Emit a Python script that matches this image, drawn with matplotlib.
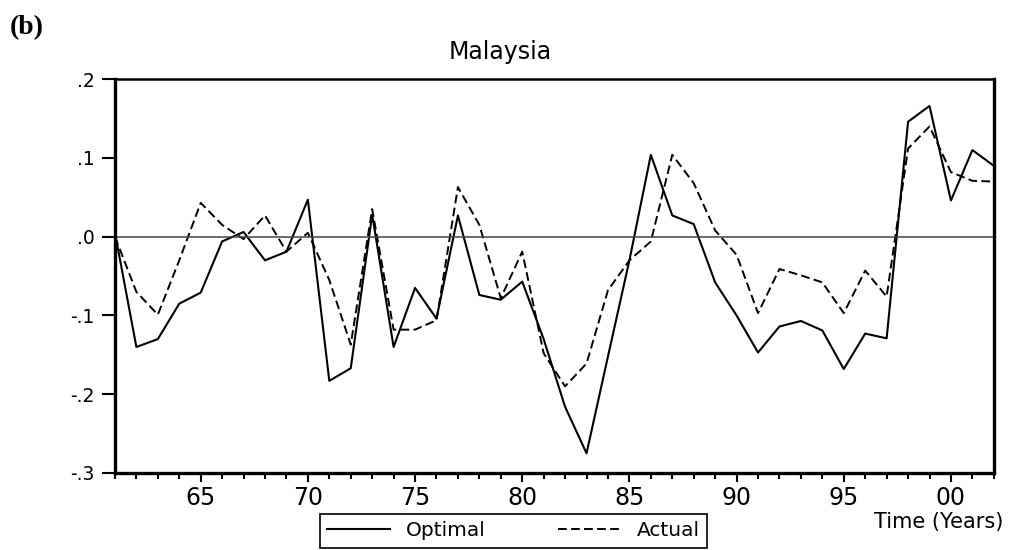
import matplotlib
matplotlib.use("Agg")
import matplotlib.pyplot as plt
from matplotlib.ticker import MultipleLocator, FixedLocator

plt.rcParams['font.family'] = ['DejaVu Sans']

years = list(range(1961, 2003))
optimal = [0.005, -0.140, -0.130, -0.085, -0.071, -0.006, 0.006, -0.030, -0.019, 0.047,
           -0.183, -0.167, 0.028, -0.140, -0.065, -0.104, 0.027, -0.074, -0.080, -0.057,
           -0.130, -0.216, -0.275, -0.152, -0.030, 0.104, 0.027, 0.016, -0.058, -0.100,
           -0.147, -0.114, -0.107, -0.119, -0.168, -0.123, -0.129, 0.146, 0.166, 0.046,
           0.110, 0.090]
actual = [0.000, -0.070, -0.099, -0.030, 0.043, 0.015, -0.003, 0.027, -0.019, 0.005,
          -0.055, -0.137, 0.035, -0.118, -0.118, -0.106, 0.063, 0.015, -0.078, -0.019,
          -0.148, -0.190, -0.161, -0.068, -0.030, -0.006, 0.104, 0.068, 0.008, -0.023,
          -0.097, -0.041, -0.049, -0.058, -0.097, -0.043, -0.076, 0.112, 0.140, 0.082,
          0.071, 0.070]
yticks = [-0.3, -0.2, -0.1, 0.0, 0.1, 0.2]
ylabels = ['-.3', '-.2', '-.1', '.0', '.1', '.2']
xticks = [1965, 1970, 1975, 1980, 1985, 1990, 1995, 2000]

fig = plt.figure(figsize=(10.11, 5.5), dpi=100)
ax = fig.add_axes([0.1137, 0.14, 0.8693, 0.716])

ax.plot(years, optimal, color='black', lw=1.5, label='Optimal')
ax.plot(years, actual, color='black', lw=1.4, ls=(0, (4.5, 2.2)), label='Actual')
ax.axhline(0, color='#444444', lw=1.1)

ax.set_xlim(1961, 2002)
ax.set_ylim(-0.3, 0.2)
ax.xaxis.set_major_locator(FixedLocator(xticks))
ax.xaxis.set_minor_locator(MultipleLocator(1))
ax.set_xticklabels(['%02d' % (y % 100) for y in xticks])
ax.set_yticks(yticks)
ax.set_yticklabels(ylabels)
ax.tick_params(axis='both', direction='out', width=1.5, color='black')
ax.tick_params(axis='x', which='major', length=6.5, labelsize=17, pad=3)
ax.tick_params(axis='x', which='minor', length=4.5, width=1.5)
ax.tick_params(axis='y', length=9.4, labelsize=13.5, pad=5.5)
for s in ['left', 'bottom', 'right']:
    ax.spines[s].set_linewidth(2.4)
ax.spines['top'].set_linewidth(1.8)

fig.text(500 / 1011, 1 - 59 / 550, 'Malaysia', fontsize=17, ha='center', va='baseline')
fig.text(10 / 1011, 1 - 27.5 / 550, '(b)', fontsize=20, fontweight='bold',
         family='Liberation Serif', va='center', ha='left')
fig.text(1003 / 1011, 1 - 528 / 550, 'Time (Years)', fontsize=15, ha='right', va='baseline')

fig.legend(loc='center', bbox_to_anchor=(513.5 / 1011, 1 - 531 / 550), ncol=2, fontsize=14.5,
           frameon=True, fancybox=False, edgecolor='black', framealpha=1,
           handlelength=3.1, columnspacing=3.6, borderpad=0.35, handletextpad=0.8)
fig.legends[0].get_frame().set_linewidth(1.2)

fig.savefig('out.png', dpi=100)
